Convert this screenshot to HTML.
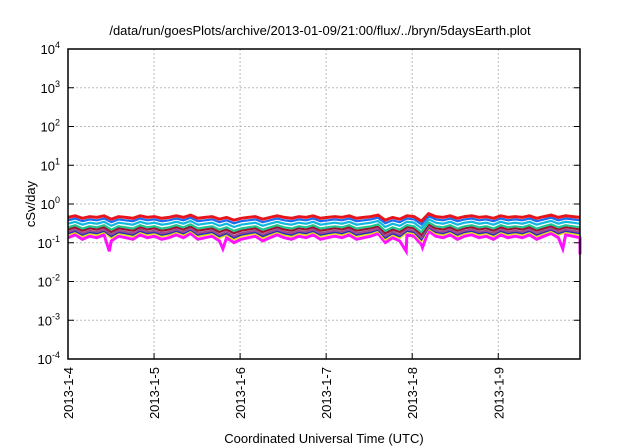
<!DOCTYPE html>
<html><head><meta charset="utf-8"><style>
body{margin:0;background:#fff;}
svg{display:block;font-family:"Liberation Sans",sans-serif;}
</style></head><body>
<svg id="c" width="640" height="448" xmlns="http://www.w3.org/2000/svg">
<text x="320" y="35" text-anchor="middle" font-size="13">/data/run/goesPlots/archive/2013-01-09/21:00/flux/../bryn/5daysEarth.plot</text>
<text transform="translate(35,204) rotate(-90)" text-anchor="middle" font-size="13">cSv/day</text>
<text x="324" y="443" text-anchor="middle" font-size="13">Coordinated Universal Time (UTC)</text>
<g id="grid"></g><g id="series"></g><g id="axes"></g>
</svg>
<script>
const yExponents=[-4,-3,-2,-1,0,1,2,3,4];
const xTickLabels=["2013-1-4","2013-1-5","2013-1-6","2013-1-7","2013-1-8","2013-1-9"];
const xDays=[0,1,2,3,4,5];
// shared variation shape (multipliers), sampled every 1/12 day over 5.95 days
const shape=[1.0,1.1,0.95,1.05,1.0,1.1,0.9,1.05,1.0,0.95,1.1,1.0,1.05,0.95,1.0,1.1,1.0,1.15,0.95,1.0,1.05,0.9,1.0,0.85,0.95,1.0,1.05,0.9,1.0,1.1,1.0,0.95,1.05,1.0,1.1,0.95,1.0,1.05,1.0,1.1,0.95,1.0,1.05,1.15,0.85,1.0,0.9,1.1,1.05,0.8,1.25,1.05,1.0,1.1,0.95,1.05,1.1,1.0,1.05,0.95,1.1,1.0,1.05,1.0,1.1,0.95,1.05,1.15,1.0,1.1,1.05,1.0];
const seriesNames=["red","blue","cyan","green","darkred","purple","navy","yellow","magenta"];
const seriesLevels=[0.45,0.38,0.31,0.25,0.22,0.19,0.175,0.16,0.135];
const seriesColors=["#e8141c","#1a6cf0","#10b8e0","#20c890","#a01030","#a04890","#2030c0","#e8e010","#ff10ff"];
// magenta dips: [day, value]
const dipDays=[0.48,1.8,3.93,4.12,5.75,5.95];
const dipValues=[0.06,0.07,0.06,0.075,0.07,0.05];
const L=68,R=580,T=49,B=359,xMax=5.95;
const ns="http://www.w3.org/2000/svg";
const xs=d=>L+(R-L)*d/xMax;
const ys=v=>B-(B-T)*(Math.log10(v)+4)/8;
function mk(t,a,p){const e=document.createElementNS(ns,t);for(const k in a)e.setAttribute(k,a[k]);p.appendChild(e);return e;}
const grid=document.getElementById('grid'),axes=document.getElementById('axes'),ser=document.getElementById('series');
yExponents.forEach(e=>{const y=ys(Math.pow(10,e));
 if(e>-4&&e<4){const g=mk('line',{x1:L,x2:R,y1:y,y2:y,stroke:'#bbb','stroke-dasharray':'2,2'},grid);
 
 }
 const t=mk('text',{x:L-8,y:y+5,'text-anchor':'end','font-size':'13'},axes);
 
 
 t.innerHTML='10<tspan dy="-6" font-size="9">'+e+'</tspan>';
 mk('line',{x1:L,x2:L+6,y1:y,y2:y,stroke:'#000'},axes);mk('line',{x1:R,x2:R-6,y1:y,y2:y,stroke:'#000'},axes);
});
xDays.forEach((d,i)=>{const x=xs(d);
 if(d>0){const g=mk('line',{x1:x,x2:x,y1:T,y2:B,stroke:'#bbb','stroke-dasharray':'2,2'},grid);
 
 }
 mk('line',{x1:x,x2:x,y1:B,y2:B-6,stroke:'#000'},axes);
 const t=mk('text',{transform:`translate(${x+5},367) rotate(-90)`,'text-anchor':'end','font-size':'13'},axes);
 
 
 t.textContent=xTickLabels[i];
});
const fr=mk('rect',{x:L,y:T,width:R-L,height:B-T,fill:'none',stroke:'#000','stroke-width':1.5},axes);


for(let s=seriesNames.length-1;s>=0;s--){
 let pts=shape.map((m,i)=>[i*xMax/(shape.length-1),seriesLevels[s]*Math.pow(m,1+s*0.1)]);
 if(seriesNames[s]==="magenta"){dipDays.forEach((d,j)=>pts.push([d,dipValues[j]]));pts.sort((a,b)=>a[0]-b[0]);}
 const p=mk('polyline',{points:pts.map(q=>xs(q[0]).toFixed(1)+','+ys(q[1]).toFixed(1)).join(' '),fill:'none',stroke:seriesColors[s],'stroke-width':s===0||s===8?3:2.2},ser);
 
 
}
</script>
</body></html>
